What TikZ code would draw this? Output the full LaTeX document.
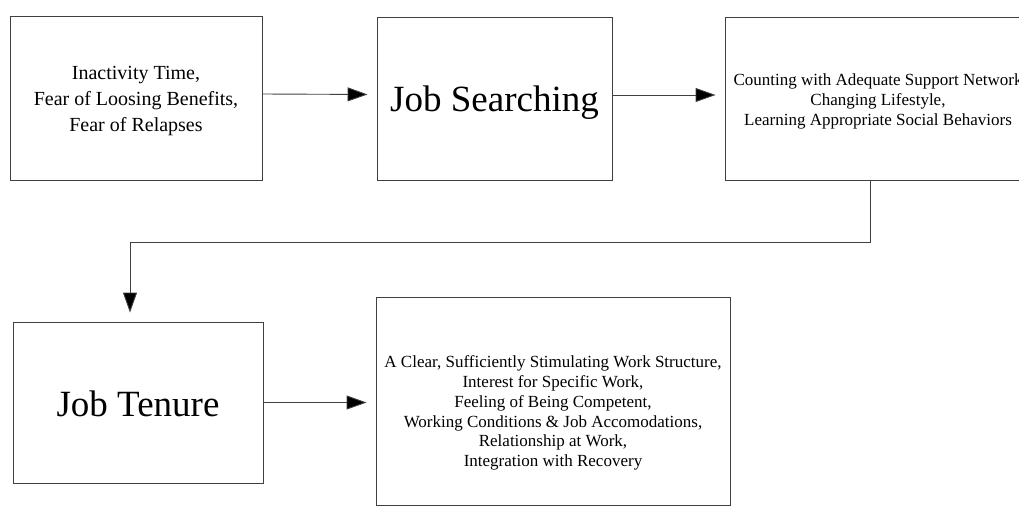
\documentclass[tikz,border=0pt]{standalone}
\usepackage{fontspec}
\setmainfont{Liberation Serif}
\usetikzlibrary{arrows.meta,calc}
\tikzset{
  box/.style={draw=black!75, line width=0.9pt, fill=white, inner sep=0pt},
  arr/.style={draw=black!75, line width=0.9pt, -{Triangle[length=20pt,width=14pt,fill=black]}, shorten >=9pt},
  txt/.style={align=center, inner sep=0pt},
  small/.style={font=\fontsize{17}{19.7}\selectfont},
  mid/.style={font=\fontsize{20}{26}\selectfont},
  big/.style={font=\fontsize{37}{40}\selectfont}
}
\begin{document}
\begin{tikzpicture}[x=1pt,y=-1pt]
\useasboundingbox (0,0) rectangle (1019,507);
\begin{scope}
\clip (0,0) rectangle (1019,507);
\node[box, minimum width=252pt, minimum height=164pt] (n1) at (136,98) {};
\node[txt, mid] (t1) at (136,101)
  {Inactivity Time,\\Fear of Loosing Benefits,\\Fear of Relapses};
\node[box, minimum width=235pt, minimum height=163pt] (n2) at (494.5,98.5) {};
\node[txt, big] (t2) at (494.5,103) {Job Searching};
\node[box, minimum width=306pt, minimum height=163pt] (n3) at (878,98.5) {};
\node[txt, small] (t3) at (878,101.5)
  {Counting with Adequate Support Network\\Changing Lifestyle,\\Learning Appropriate Social Behaviors};
\node[box, minimum width=250pt, minimum height=161pt] (n4) at (138,402.5) {};
\node[txt, big] (t4) at (138,404) {Job Tenure};
\node[box, minimum width=354pt, minimum height=208pt] (n5) at (553,401) {};
\node[txt, small] (t5) at (553,413)
  {A Clear, Sufficiently Stimulating Work Structure,\\Interest for Specific Work,\\Feeling of Being Competent,\\Working Conditions \& Job Accomodations,\\Relationship at Work,\\Integration with Recovery};
\coordinate (c1) at (870,242);
\coordinate (c2) at (130,242);
\draw[arr] ([yshift=4pt]n1.east) -- ([yshift=4pt]n2.west);
\draw[arr] ([yshift=3.5pt]n2.east) -- ([yshift=3.5pt]n3.west);
\draw[arr] (n3.south -| c1) -- (c1) -- (c2) -- (n4.north -| c2);
\draw[arr] (n4.east) -- (n4.east -| n5.west);
\end{scope}
\end{tikzpicture}
\end{document}
